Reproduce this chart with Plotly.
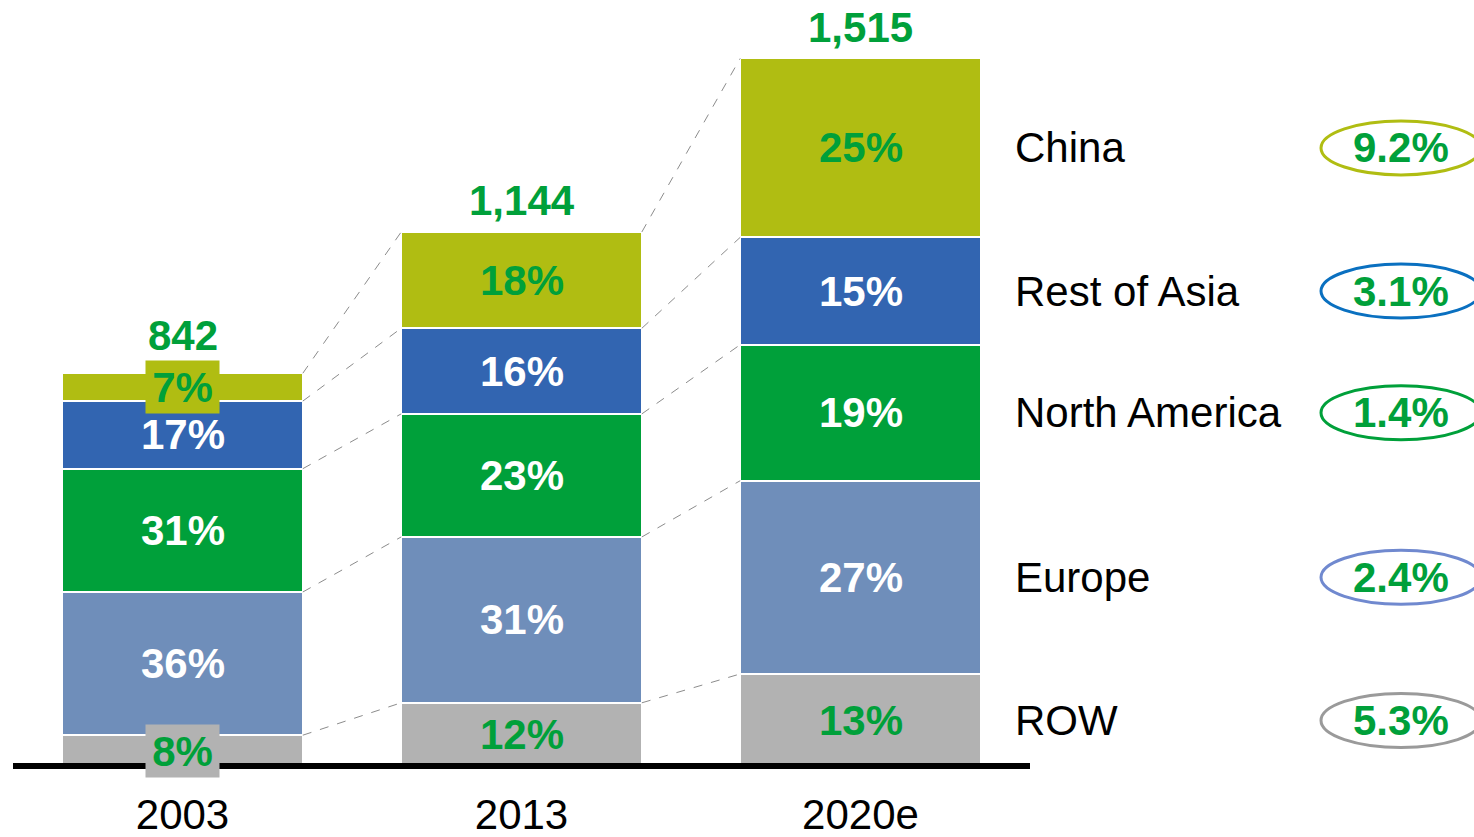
import plotly.graph_objects as go

# Market volume by region, share of each year's total (%)
years = ["2003", "2013", "2020e"]
totals = [842, 1144, 1515]
regions = ["ROW", "Europe", "North America", "Rest of Asia", "China"]
share_row = [8, 12, 13]
share_europe = [36, 31, 27]
share_na = [31, 23, 19]
share_roa = [17, 16, 15]
share_china = [7, 18, 25]
cagr = ["5.3%", "2.4%", "1.4%", "3.1%", "9.2%"]  # growth rate per region, same order as regions

shares = [share_row, share_europe, share_na, share_roa, share_china]

# styling
fill = ["#B2B2B2", "#6F8EBA", "#00A03A", "#3265B1", "#B0BD12"]
ring = ["#9A9A9A", "#7089CF", "#00A03A", "#0A70C0", "#B0BD12"]
label_color = ["#00A03A", "#FFFFFF", "#FFFFFF", "#FFFFFF", "#00A03A"]
GREEN = "#00A03A"
FONT = "Liberation Sans, Arial, sans-serif"
BAR_W = 0.71
W, H = 1474, 837
L, R, T, B = 13, 444, 0, 70
YMAX = 1640

x = list(range(len(years)))

# segment values: each bar's total split by the stated shares
col_sum = [sum(s[i] for s in shares) for i in x]
seg = [[totals[i] * s[i] / col_sum[i] for i in x] for s in shares]

fig = go.Figure()
for k, name in enumerate(regions):
    fig.add_trace(go.Bar(
        x=x, y=seg[k], name=name, width=BAR_W,
        marker=dict(color=fill[k], line=dict(color="white", width=2)),
        showlegend=False, hoverinfo="skip",
    ))

annotations = []
shapes = []

# cumulative boundaries per bar
bounds = []
for i in x:
    b = [0.0]
    for k in range(len(regions)):
        b.append(b[-1] + seg[k][i])
    bounds.append(b)

# share labels inside segments; thin segments get a boxed label
for i in x:
    for k in range(len(regions)):
        mid = (bounds[i][k] + bounds[i][k + 1]) / 2
        small = seg[k][i] / YMAX * (H - T - B) < 45
        label = dict(
            x=i, y=mid, xref="x", yref="y", text=f"{shares[k][i]}%",
            showarrow=False, xanchor="center", yanchor="middle",
            font=dict(family=FONT, size=42, color=label_color[k], weight="bold"),
        )
        if small:
            label.update(bgcolor=fill[k], borderpad=1, width=71, height=50)
        annotations.append(label)

# totals above bars
total_shift = [38, 31, 31]
for i in x:
    annotations.append(dict(
        x=i, y=totals[i], xref="x", yref="y", text=f"{totals[i]:,}",
        showarrow=False, xanchor="center", yanchor="middle", yshift=total_shift[i],
        font=dict(family=FONT, size=42, color=GREEN, weight="bold"),
    ))

# dashed connectors between matching boundaries of neighbouring bars
for i in x[:-1]:
    for k in range(1, len(regions) + 1):
        shapes.append(dict(
            type="line", xref="x", yref="y",
            x0=i + BAR_W / 2, y0=bounds[i][k],
            x1=i + 1 - BAR_W / 2, y1=bounds[i + 1][k],
            line=dict(color="#8C8C8C", width=1, dash="dash"),
        ))

# baseline, drawn over the foot of the bars
shapes.append(dict(
    type="line", xref="paper", yref="paper", ysizemode="pixel", yanchor=0,
    x0=0, x1=1, y0=1, y1=1,
    line=dict(color="black", width=6), layer="above",
))

# region names and growth rings beside the last bar
pw = W - L - R
def px_to_paper(px):
    return (px - L) / pw

last = x[-1]
for k, name in enumerate(regions):
    mid = (bounds[last][k] + bounds[last][k + 1]) / 2
    annotations.append(dict(
        x=px_to_paper(1013), y=mid, xref="paper", yref="y", text=name,
        showarrow=False, xanchor="left", yanchor="middle",
        font=dict(family=FONT, size=42, color="black"),
    ))
    annotations.append(dict(
        x=px_to_paper(1401), y=mid, xref="paper", yref="y", text=cagr[k],
        showarrow=False, xanchor="center", yanchor="middle",
        font=dict(family=FONT, size=42, color=GREEN, weight="bold"),
    ))
    shapes.append(dict(
        type="circle", xref="paper", yref="y",
        xsizemode="pixel", ysizemode="pixel",
        xanchor=px_to_paper(1401), yanchor=mid,
        x0=-80, x1=80, y0=-27, y1=27,
        line=dict(color=ring[k], width=3),
    ))

fig.update_layout(
    barmode="stack",
    width=W, height=H,
    margin=dict(l=L, r=R, t=T, b=B, pad=0),
    paper_bgcolor="white", plot_bgcolor="white",
    annotations=annotations, shapes=shapes,
    xaxis=dict(
        tickmode="array", tickvals=x, ticktext=years, range=[-0.5, 2.5],
        showgrid=False, zeroline=False, showline=False,
        ticks="", ticklabelstandoff=19, tickfont=dict(family=FONT, size=42, color="black"),
        fixedrange=True,
    ),
    yaxis=dict(range=[0, YMAX], visible=False, fixedrange=True),
    font=dict(family=FONT),
)

fig.write_html("out.html")
